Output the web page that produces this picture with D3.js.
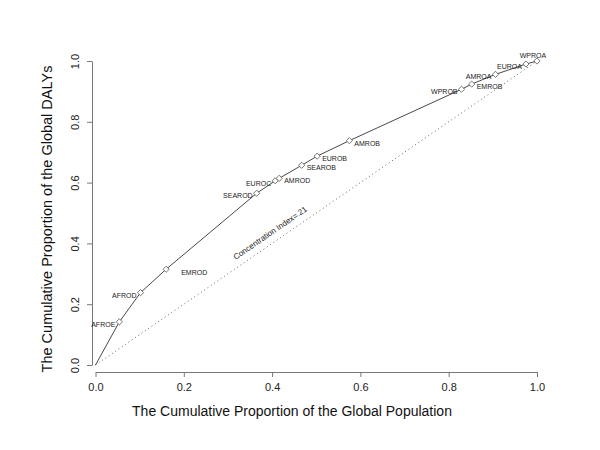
<!DOCTYPE html>
<html><head><meta charset="utf-8">
<script src="https://cdn.jsdelivr.net/npm/d3@7/dist/d3.min.js"></script>
<style>body{margin:0;background:#fff}svg{display:block;font-family:"Liberation Sans",Arial,sans-serif}</style>
</head><body><svg id="c" width="600" height="450"></svg>
<script>
const regions = ["AFROE","AFROD","EMROD","SEAROD","EUROC","AMROD","SEAROB","EUROB","AMROB","WPROB","EMROB","AMROA","EUROA","WPROA"];
const cumPop = [0.054,0.102,0.160,0.365,0.407,0.416,0.467,0.502,0.575,0.829,0.852,0.906,0.975,1.0];
const cumDaly = [0.142,0.238,0.315,0.565,0.606,0.614,0.657,0.687,0.738,0.907,0.924,0.956,0.990,1.0];
const labelSide = ["left","left","farright","left","left","right","right","right","right","left","right","left","left","above"];
const ticks = [0,0.2,0.4,0.6,0.8,1.0];
const annotation = "Concentration Index=.21";
const xTitle = "The Cumulative Proportion of the Global Population";
const yTitle = "The Cumulative Proportion of the Global DALYs";

const svg = d3.select("#c");
const x = d3.scaleLinear().domain([0,1]).range([95.5,537]);
const y = d3.scaleLinear().domain([0,1]).range([365,61]);
const axisCol = "#777";

// x axis
const gx = svg.append("g").attr("transform","translate(0,372)")
  .call(d3.axisBottom(x).tickValues(ticks).tickFormat(d3.format(".1f")).tickSize(5).tickSizeOuter(0).tickPadding(6));
gx.select(".domain").attr("stroke",axisCol);
gx.selectAll(".tick line").attr("stroke",axisCol);
gx.selectAll(".tick text").attr("font-size",11).attr("fill","#222").attr("font-family","Liberation Sans, Arial, sans-serif");

// y axis
const gy = svg.append("g").attr("transform","translate(92,0)")
  .call(d3.axisLeft(y).tickValues(ticks).tickFormat(d3.format(".1f")).tickSize(5).tickSizeOuter(0).tickPadding(6));
gy.select(".domain").attr("stroke",axisCol);
gy.selectAll(".tick line").attr("stroke",axisCol);
gy.selectAll(".tick text").attr("font-size",11).attr("fill","#222").attr("font-family","Liberation Sans, Arial, sans-serif")
  .attr("text-anchor","middle").attr("x",0).attr("dy",0)
  .attr("transform","translate(-16,0) rotate(-90)").attr("dominant-baseline","middle");

// equality line (dotted)
svg.append("line").attr("x1",x(0)).attr("y1",y(0)).attr("x2",x(1)).attr("y2",y(1))
  .attr("stroke","#666").attr("stroke-width",1).attr("stroke-dasharray","1,3");

// concentration curve
const pts = [[0,0]].concat(cumPop.map((p,i)=>[p,cumDaly[i]]));
svg.append("path").datum(pts)
  .attr("d", d3.line().x(d=>x(d[0])).y(d=>y(d[1])))
  .attr("fill","none").attr("stroke","#333").attr("stroke-width",0.9);

// diamond markers
const ds = 3.1;
svg.selectAll("path.m").data(cumPop).enter().append("path").attr("class","m")
  .attr("d",(d,i)=>{const cx=x(d), cy=y(cumDaly[i]); return `M${cx},${cy-ds}L${cx+ds},${cy}L${cx},${cy+ds}L${cx-ds},${cy}Z`;})
  .attr("fill","#fff").attr("stroke","#555").attr("stroke-width",0.8);

// labels
svg.selectAll("text.lab").data(regions).enter().append("text").attr("class","lab")
  .attr("font-size",7).attr("fill","#222")
  .each(function(d,i){
    const cx=x(cumPop[i]), cy=y(cumDaly[i]); const s=labelSide[i]; const t=d3.select(this);
    if(s==="left"){t.attr("x",cx-4).attr("y",cy+5).attr("text-anchor","end");}
    else if(s==="right"){t.attr("x",cx+5).attr("y",cy+5).attr("text-anchor","start");}
    else if(s==="farright"){t.attr("x",cx+15).attr("y",cy+6).attr("text-anchor","start");}
    else {t.attr("x",cx-4).attr("y",cy-3).attr("text-anchor","middle");}
  }).text(d=>d);

// annotation along diagonal
const ang = Math.atan2(y(1)-y(0), x(1)-x(0))*180/Math.PI;
svg.append("text").attr("font-size",8).attr("fill","#222").attr("text-anchor","middle")
  .attr("transform",`translate(${x(0.408)},${y(0.408)}) rotate(${ang}) translate(0,-7)`)
  .text(annotation);

// titles
svg.append("text").attr("x",292).attr("y",416).attr("text-anchor","middle")
  .attr("font-size",14).attr("fill","#111").text(xTitle);
svg.append("text").attr("transform",`translate(52,219) rotate(-90)`).attr("text-anchor","middle")
  .attr("font-size",14.5).attr("fill","#111").text(yTitle);
</script></body></html>
